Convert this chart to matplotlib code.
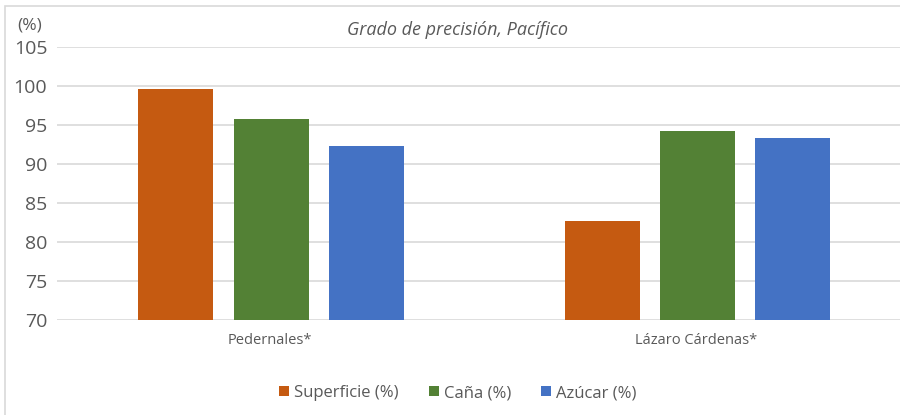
import matplotlib.pyplot as plt
import numpy as np
from matplotlib.patches import Rectangle

categories = ["Pedernales*", "Lázaro Cárdenas*"]
series_names = ["Superficie (%)", "Caña (%)", "Azúcar (%)"]
superficie = [99.6, 82.7]
cana = [95.8, 94.2]
azucar = [92.3, 93.3]
colors = ["#C55A11", "#538135", "#4472C4"]
yticks = [70, 75, 80, 85, 90, 95, 100, 105]

plt.rcParams['font.family'] = ['Open Sans', 'DejaVu Sans']
text_color = "#595959"

fig = plt.figure(figsize=(9, 4.15), dpi=100)
ax = fig.add_axes([57 / 900, 1 - 320 / 415, 843 / 900, (320 - 47) / 415])

x = np.arange(len(categories))
width = 0.176
step = 0.223
for i, (vals, name) in enumerate(zip([superficie, cana, azucar], series_names)):
    ax.bar(x + (i - 1) * step + 0.002, np.array(vals) - 70, width=width, bottom=70,
           color=colors[i], label=name, zorder=3)

ax.set_ylim(70, 105)
ax.set_xlim(-0.5, (900 - 270) / 426.5)
ax.set_yticks(yticks)
ax.set_xticks(x)
ax.set_xticklabels(categories, fontsize=10.5, color=text_color)
ax.tick_params(axis='y', labelsize=14, colors=text_color, length=0, pad=7)
ax.tick_params(axis='x', length=0, pad=9)
ax.grid(axis='y', color="#d9d9d9", linewidth=1.2, zorder=0)
for s in ax.spines.values():
    s.set_visible(False)

fig.text(30 / 900, 1 - 25 / 415, "(%)", fontsize=12.5, color=text_color, ha='center', va='center')
fig.text(458 / 900, 1 - 30 / 415, "Grado de precisión, Pacífico", fontsize=13,
         style='italic', color=text_color, ha='center', va='center')

fig.legend(loc='center', bbox_to_anchor=(458 / 900, 1 - 393 / 415), ncol=3,
           frameon=False, fontsize=12, labelcolor=text_color, handlelength=0.6,
           handleheight=0.6, handletextpad=0.3, columnspacing=1.8)

fig.patches.append(Rectangle((5 / 900, -0.05), 1, 1.05 - 6 / 415, transform=fig.transFigure,
                             fill=False, edgecolor="#d9d9d9", linewidth=1.2))

fig.savefig("out.png", dpi=100)
